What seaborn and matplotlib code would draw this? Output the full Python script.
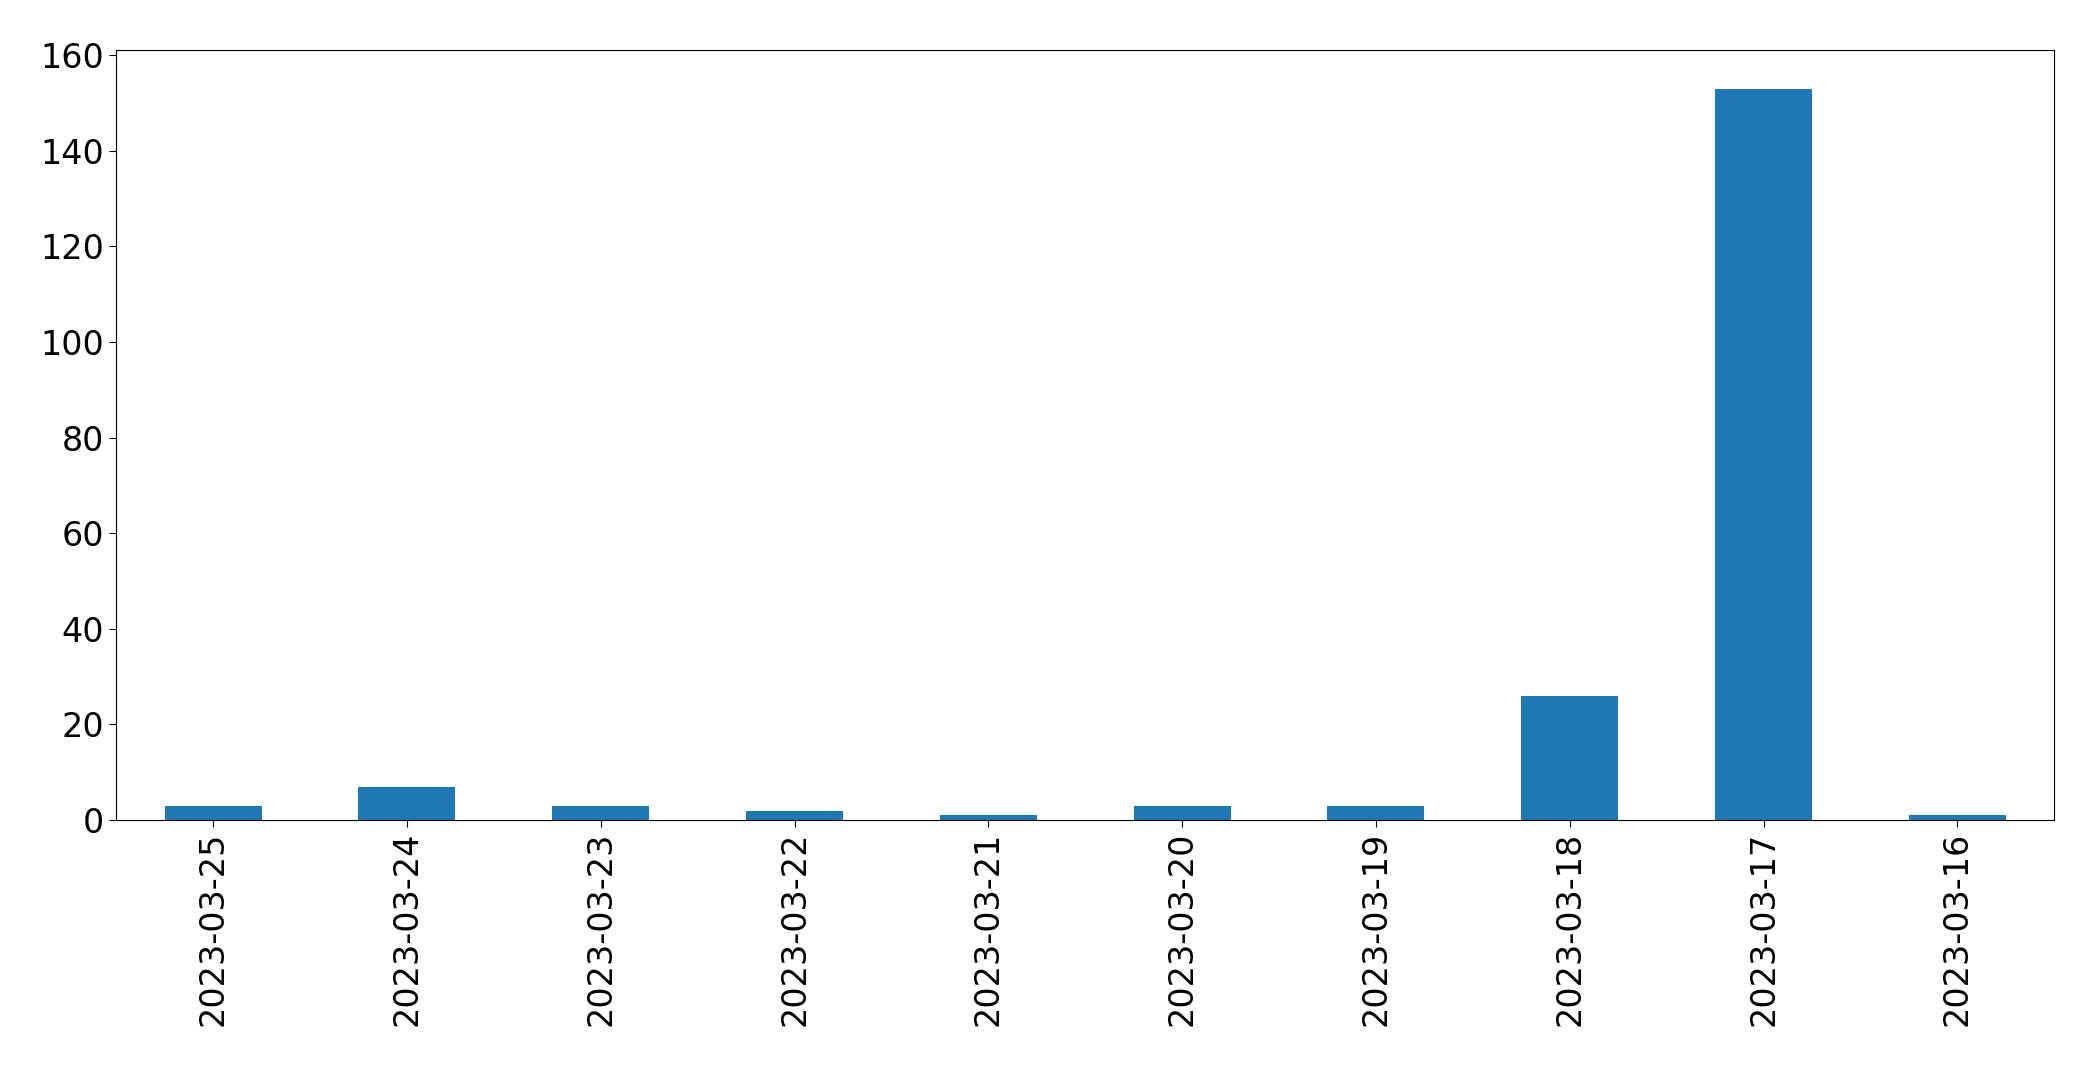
import matplotlib
matplotlib.use("Agg")
import matplotlib.pyplot as plt
import seaborn as sns
import pandas as pd

# daily counts, newest first
dates = ['2023-03-25', '2023-03-24', '2023-03-23', '2023-03-22', '2023-03-21',
         '2023-03-20', '2023-03-19', '2023-03-18', '2023-03-17', '2023-03-16']
counts = [3, 7, 3, 2, 1, 3, 3, 26, 153, 1]

df = pd.DataFrame({'date': dates, 'count': counts})

fig = plt.figure(figsize=(20.93, 10.72), dpi=100)
ax = fig.add_axes([0.0555, 0.235, 0.926, 0.718])
sns.barplot(data=df, x='date', y='count', color='#1f77b4', saturation=1,
            width=0.5, ax=ax)
ax.set_xlabel('')
ax.set_ylabel('')
ax.set_xlim(-0.5, len(dates) - 0.5)
ax.set_ylim(0, 161)
ax.tick_params(axis='both', labelsize=24, length=5)
plt.setp(ax.get_xticklabels(), rotation=90)
fig.savefig('out.png', dpi=100)
